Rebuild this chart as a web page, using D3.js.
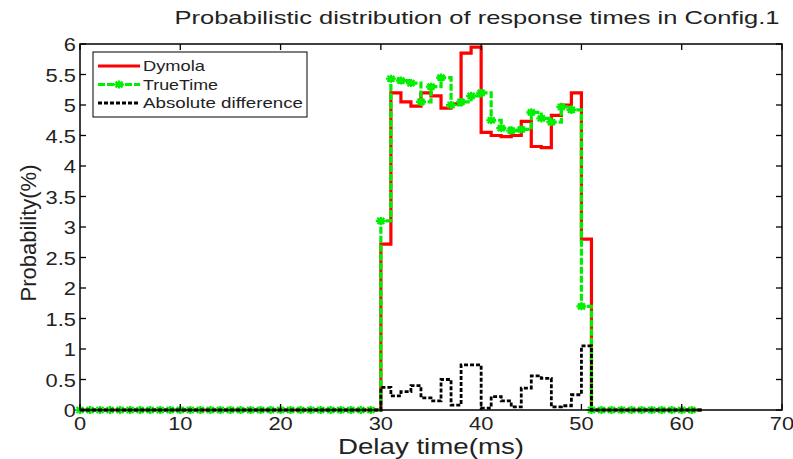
<!DOCTYPE html>
<html>
<head>
<meta charset="utf-8">
<script src="https://cdn.jsdelivr.net/npm/d3@7"></script>
<style>
  body { margin: 0; background: #fff; }
  text { font-family: "Liberation Sans", Arial, sans-serif; fill: #222; }
</style>
</head>
<body>
<svg width="793" height="459"></svg>
<script>
// Bin start (ms), one bin per millisecond.
const delayMs = [0,1,2,3,4,5,6,7,8,9,10,11,12,13,14,15,16,17,18,19,20,21,22,23,24,25,26,27,28,29,
  30,31,32,33,34,35,36,37,38,39,40,41,42,43,44,45,46,47,48,49,50,51,52,53,54,55,56,57,58,59,60,61];

// Probability (%) per bin.
const dymola = [0,0,0,0,0,0,0,0,0,0,0,0,0,0,0,0,0,0,0,0,0,0,0,0,0,0,0,0,0,0,
  2.72,5.2,5.05,4.98,5.2,5.15,4.95,5.02,5.85,5.95,4.55,4.5,4.48,4.5,4.73,4.32,4.3,4.83,5.0,5.2,2.8,0,
  0,0,0,0,0,0,0,0,0,0];
const trueTime = [0,0,0,0,0,0,0,0,0,0,0,0,0,0,0,0,0,0,0,0,0,0,0,0,0,0,0,0,0,0,
  3.1,5.43,5.4,5.36,5.05,5.3,5.45,5.0,5.05,5.15,5.2,4.75,4.62,4.58,4.6,4.88,4.78,4.72,4.97,4.92,1.7,0,
  0,0,0,0,0,0,0,0,0,0];
const absDiff = [0,0,0,0,0,0,0,0,0,0,0,0,0,0,0,0,0,0,0,0,0,0,0,0,0,0,0,0,0,0,
  0.37,0.23,0.3,0.4,0.2,0.15,0.5,0.08,0.74,0.74,0.03,0.22,0.15,0.05,0.36,0.56,0.52,0.05,0.07,0.25,1.05,0,
  0,0,0,0,0,0,0,0,0,0];

const xTicks = [0,10,20,30,40,50,60,70];
const yTicks = [0,0.5,1,1.5,2,2.5,3,3.5,4,4.5,5,5.5,6];

const svg = d3.select("svg");
const plotLeft = 80, plotRight = 782, plotTop = 44, plotBottom = 410;

const x = d3.scaleLinear().domain([0, 70]).range([plotLeft, plotRight]);
const y = d3.scaleLinear().domain([0, 6]).range([plotBottom, plotTop]);

// Stretched text helper (the source picture is widened horizontally).
let label = function (px, py, str, size, anchor, sx) {
  return svg.append("g")
    .attr("transform", `translate(${px},${py}) scale(${sx},1)`)
    .append("text")
    .attr("font-size", size)
    .attr("text-anchor", anchor)
    .text(str);
};

// Series as stairs, with one extra point so the last bin closes.
let steps = function (vals) {
  let pts = delayMs.map((d, i) => [d, vals[i]]);
  pts.push([delayMs[delayMs.length - 1] + 1, vals[vals.length - 1]]);
  return pts;
};
const line = d3.line().x(d => x(d[0])).y(d => y(d[1])).curve(d3.curveStepAfter);

svg.append("path").datum(steps(dymola))
  .attr("d", line).attr("fill", "none")
  .attr("stroke", "#ff0000").attr("stroke-width", 3.2);

svg.append("path").datum(steps(trueTime))
  .attr("d", line).attr("fill", "none")
  .attr("stroke", "#00ee00").attr("stroke-width", 3.2)
  .attr("stroke-dasharray", "7,2");

// Markers on the TrueTime series.
let marker = function (g, cx, cy) {
  g.append("path")
    .attr("d", `M${cx - 5},${cy}L${cx + 5},${cy}M${cx},${cy - 4}L${cx},${cy + 4}` +
               `M${cx - 3.5},${cy - 3}L${cx + 3.5},${cy + 3}M${cx - 3.5},${cy + 3}L${cx + 3.5},${cy - 3}`)
    .attr("stroke", "#00ee00").attr("stroke-width", 2.2).attr("fill", "none");
};
const mk = svg.append("g");
delayMs.forEach((d, i) => marker(mk, x(d), y(trueTime[i])));

svg.append("path").datum(steps(absDiff))
  .attr("d", line).attr("fill", "none")
  .attr("stroke", "#000").attr("stroke-width", 2.8)
  .attr("stroke-dasharray", "4,2");

// Axes frame with inward ticks.
svg.append("rect")
  .attr("x", plotLeft).attr("y", plotTop)
  .attr("width", plotRight - plotLeft).attr("height", plotBottom - plotTop)
  .attr("fill", "none").attr("stroke", "#000").attr("stroke-width", 1.5);

const axisG = svg.append("g").attr("stroke", "#000").attr("stroke-width", 1.3);
xTicks.forEach(t => {
  axisG.append("line").attr("x1", x(t)).attr("x2", x(t)).attr("y1", plotBottom).attr("y2", plotBottom - 6);
  axisG.append("line").attr("x1", x(t)).attr("x2", x(t)).attr("y1", plotTop).attr("y2", plotTop + 6);
  label(x(t), plotBottom + 20, t, 19, "middle", 1.15);
});
yTicks.forEach(t => {
  axisG.append("line").attr("x1", plotLeft).attr("x2", plotLeft + 6).attr("y1", y(t)).attr("y2", y(t));
  axisG.append("line").attr("x1", plotRight).attr("x2", plotRight - 6).attr("y1", y(t)).attr("y2", y(t));
  label(plotLeft - 4, y(t) + 7, t, 19, "end", 1.15);
});

// Title and axis labels.
svg.append("text")
  .attr("x", 477).attr("y", 24)
  .attr("font-size", 19).attr("text-anchor", "middle")
  .attr("textLength", 605).attr("lengthAdjust", "spacingAndGlyphs")
  .text("Probabilistic distribution of response times in Config.1");

svg.append("text")
  .attr("x", 431).attr("y", 454)
  .attr("font-size", 22).attr("text-anchor", "middle")
  .attr("textLength", 186).attr("lengthAdjust", "spacingAndGlyphs")
  .text("Delay time(ms)");

svg.append("text")
  .attr("transform", "translate(36,233) rotate(-90)")
  .attr("font-size", 22).attr("text-anchor", "middle")
  .attr("textLength", 137).attr("lengthAdjust", "spacingAndGlyphs")
  .text("Probability(%)");

// Legend.
const legend = svg.append("g");
legend.append("rect")
  .attr("x", 93).attr("y", 52).attr("width", 214).attr("height", 65)
  .attr("fill", "#fff").attr("stroke", "#000").attr("stroke-width", 1);

const legendNames = ["Dymola", "TrueTime", "Absolute difference"];
const legendColors = ["#ff0000", "#00ee00", "#000"];
const legendDash = [null, "7,2", "4,2"];
const legendWidths = [62, 75, 160];
legendNames.forEach((name, i) => {
  let ly = 66 + i * 18.5;
  legend.append("line")
    .attr("x1", 98).attr("x2", 140).attr("y1", ly).attr("y2", ly)
    .attr("stroke", legendColors[i]).attr("stroke-width", 3)
    .attr("stroke-dasharray", legendDash[i]);
  if (i == 1) marker(legend, 119, ly);
  legend.append("text")
    .attr("x", 143).attr("y", ly + 5)
    .attr("font-size", 15)
    .attr("textLength", legendWidths[i]).attr("lengthAdjust", "spacingAndGlyphs")
    .text(name);
});
</script>
</body>
</html>
